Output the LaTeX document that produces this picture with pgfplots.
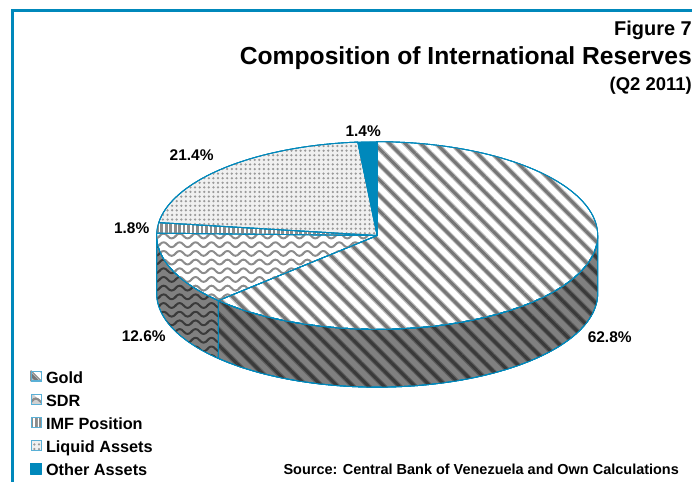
\documentclass[border=0pt]{standalone}
\usepackage{fontspec}
\setmainfont{Liberation Sans}
\usepackage{pgfplots}
\usepackage{pgfplotstable}
\pgfplotsset{compat=1.18}
\usetikzlibrary{patterns,patterns.meta}

\definecolor{bcvblue}{RGB}{0,136,187}
\definecolor{swatchedge}{RGB}{90,176,214}
\definecolor{stripegray}{RGB}{118,118,118}
\definecolor{stripesoft}{RGB}{190,190,190}
\definecolor{wavegray}{RGB}{140,140,140}
\definecolor{sidegray}{RGB}{128,128,128}
\definecolor{sidedark}{RGB}{58,58,58}
\definecolor{sidesoft}{RGB}{94,94,94}

% wavy lines for the SDR slice
\pgfdeclarepatternformonly{wavy}{\pgfqpoint{-1pt}{-4pt}}{\pgfqpoint{17pt}{13pt}}{\pgfqpoint{16pt}{8.7pt}}{
  \pgfsetlinewidth{2pt}
  \pgfpathmoveto{\pgfqpoint{-1pt}{3.5pt}}
  \pgfpathlineto{\pgfqpoint{0pt}{4.35pt}}
  \pgfpathcurveto{\pgfqpoint{2.6pt}{7.6pt}}{\pgfqpoint{5.4pt}{7.6pt}}{\pgfqpoint{8pt}{4.35pt}}
  \pgfpathcurveto{\pgfqpoint{10.6pt}{1.1pt}}{\pgfqpoint{13.4pt}{1.1pt}}{\pgfqpoint{16pt}{4.35pt}}
  \pgfpathlineto{\pgfqpoint{17pt}{5.2pt}}
  \pgfusepath{stroke}
}
% grid of dots for the liquid assets slice
\pgfdeclarepatternformonly{griddots}{\pgfqpoint{-1pt}{-1pt}}{\pgfqpoint{10pt}{10pt}}{\pgfqpoint{9.2pt}{9.2pt}}{
  \pgfpathcircle{\pgfqpoint{2.3pt}{2.3pt}}{1.25pt}
  \pgfpathcircle{\pgfqpoint{6.9pt}{2.3pt}}{1.25pt}
  \pgfpathcircle{\pgfqpoint{2.3pt}{6.9pt}}{1.25pt}
  \pgfpathcircle{\pgfqpoint{6.9pt}{6.9pt}}{1.25pt}
  \pgfusepath{fill}
}

\pgfplotstableread{
name    share
Gold    62.8
SDR     12.6
IMF     1.8
Liquid  21.4
Other   1.4
}\shares

% cumulative angles of the slices, clockwise from twelve o'clock
\pgfplotstablegetelem{0}{share}\of\shares \pgfmathsetmacro\angA{3.6*\pgfplotsretval}
\pgfplotstablegetelem{1}{share}\of\shares \pgfmathsetmacro\angB{\angA+3.6*\pgfplotsretval}
\pgfplotstablegetelem{2}{share}\of\shares \pgfmathsetmacro\angC{\angB+3.6*\pgfplotsretval}
\pgfplotstablegetelem{3}{share}\of\shares \pgfmathsetmacro\angD{\angC+3.6*\pgfplotsretval}
\pgfplotstablegetelem{4}{share}\of\shares \pgfmathsetmacro\angE{\angD+3.6*\pgfplotsretval}

\pgfplotsset{
  disc/.style={draw=bcvblue, line width=0.9pt, line join=round, forget plot},
  wedge/.style={draw=bcvblue, line width=0.9pt, line join=round, area legend},
  softlines/.style 2 args={
    postaction={pattern={Lines[angle=-45,distance=11pt,line width=5.2pt]},pattern color=#1},
    postaction={pattern={Lines[angle=-45,distance=11pt,line width=3pt]},pattern color=#2}},
}
\newcommand{\wedgeplot}[3]{% style, start angle, end angle
  \addplot[wedge,#1,domain=#2:#3,samples=120,variable=\t]
    ({px(\t)},{py(\t)}) -- (axis cs:378,236) -- cycle;
}
\newcommand{\sideplot}[3]{% style, start angle, end angle
  \addplot[disc,#1,domain=0:2,samples=161,variable=\s]
    ({px(sidet(\s,#2,#3))},{py(sidet(\s,#2,#3))+(\s>1)*58}) -- cycle;
}
\newcommand{\labelfont}{\bfseries\fontsize{15.5}{17}\selectfont}

\begin{document}
\begin{tikzpicture}
\begin{axis}[
  scale only axis, width=693pt, height=483pt,
  xmin=0, xmax=693, ymin=0, ymax=483, y dir=reverse,
  hide axis, clip=false,
  declare function={
    px(\t)=378+221*sin(\t);
    py(\t)=236-94*cos(\t);
    sidet(\s,\a,\b)=\a+(\b-\a)*min(1,1.03*min(\s,2-\s));
  },
  legend style={draw=none, fill=none, at={(axis cs:30,370)}, anchor=north west,
    font=\bfseries\fontsize{16.3}{18}\selectfont, row sep=6pt, inner sep=0pt,
    /tikz/every odd column/.append style={column sep=2pt}},
  legend cell align=left,
]
% page extent
\path (axis cs:0,0) rectangle (axis cs:693,483);
% frame along the top and left edges
\draw[bcvblue, line width=3pt] (axis cs:12.5,483) -- (axis cs:12.5,10.5) -- (axis cs:693,10.5);

% wall of the disc
\sideplot{preaction={fill=sidegray},softlines={sidesoft}{sidedark}}{90}{\angA}
\sideplot{preaction={fill=sidegray},postaction={pattern=wavy,pattern color=sidedark}}{\angA}{270}

% top of the disc
\wedgeplot{softlines={stripesoft}{stripegray},
  legend image code/.code={
    \fill[white] (0pt,-3pt) rectangle (10pt,7pt);
    \fill[sidegray!80!black] (0pt,-3pt) -- (0pt,7pt) -- (10pt,-3pt) -- cycle;
    \draw[swatchedge,line width=1.1pt] (0pt,-3pt) rectangle (10pt,7pt);}}{0}{\angA}
\addlegendentry{Gold}
\wedgeplot{postaction={pattern=wavy,pattern color=wavegray},
  legend image code/.code={
    \fill[black!18] (0pt,-3pt) rectangle (10pt,7pt);
    \fill[white] (10pt,7pt) -- (10pt,0pt) -- (3pt,7pt) -- cycle;
    \draw[swatchedge,line width=1.1pt] (0pt,-3pt) rectangle (10pt,7pt);}}{\angA}{\angB}
\addlegendentry{SDR}
\wedgeplot{postaction={pattern={Lines[angle=90,distance=4.5pt,line width=2.8pt]},pattern color=wavegray},
  legend image code/.code={
    \fill[black!40] (0pt,-3pt) rectangle (10pt,7pt);
    \foreach \v in {2.5,5,7.5} {\fill[white] (\v pt-0.5pt,-3pt) rectangle (\v pt+0.5pt,7pt);}
    \draw[swatchedge,line width=1.1pt] (0pt,-3pt) rectangle (10pt,7pt);}}{\angB}{\angC}
\addlegendentry{IMF Position}
\wedgeplot{preaction={fill=black!6},postaction={pattern=griddots,pattern color=black!40},
  legend image code/.code={
    \fill[black!30] (0pt,-3pt) rectangle (10pt,7pt);
    \foreach \u in {2.8,7.2} {\foreach \v in {-0.8,4.8} {
      \fill[white] (\u pt-1.4pt,\v pt-1.4pt) rectangle (\u pt+1.4pt,\v pt+1.4pt);}}
    \draw[swatchedge,line width=1.1pt] (0pt,-3pt) rectangle (10pt,7pt);}}{\angC}{\angD}
\addlegendentry{Liquid Assets}
\wedgeplot{fill=bcvblue,
  legend image code/.code={\fill[bcvblue] (-0.5pt,-3.5pt) rectangle (10.5pt,7.5pt);}}{\angD}{\angE}
\addlegendentry{Other Assets}

% share labels
\node[font=\labelfont] at (axis cs:364,131) {1.4\%};
\node[font=\labelfont] at (axis cs:192,155) {21.4\%};
\node[font=\labelfont] at (axis cs:132,229) {1.8\%};
\node[font=\labelfont] at (axis cs:144,337) {12.6\%};
\node[font=\labelfont] at (axis cs:611,338) {62.8\%};

% headings
\node[anchor=base east, inner sep=0pt, font=\bfseries\fontsize{20}{22}\selectfont] at (axis cs:693.5,36) {Figure 7};
\node[anchor=base east, inner sep=0pt, font=\bfseries\fontsize{24.7}{27}\selectfont] at (axis cs:693.5,65) {Composition of International Reserves};
\node[anchor=base east, inner sep=0pt, font=\bfseries\fontsize{18.5}{21}\selectfont] at (axis cs:693.5,91) {(Q2 2011)};
\node[anchor=base west, inner sep=0pt, font=\bfseries\fontsize{14.5}{16}\selectfont] at (axis cs:284,476) {Source: Central Bank of Venezuela and Own Calculations};
\end{axis}
\end{tikzpicture}
\end{document}
